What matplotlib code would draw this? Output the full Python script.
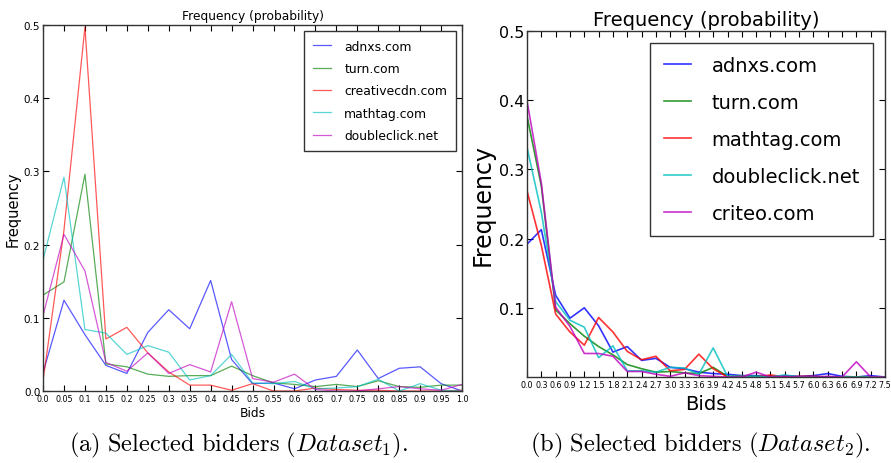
import matplotlib
matplotlib.use("Agg")
from matplotlib import pyplot as plt

plt.rcParams['font.family'] = ['DejaVu Sans']
plt.rcParams['mathtext.fontset'] = 'cm'

# (a) Dataset 1
bids_a = [0.0, 0.05, 0.1, 0.15, 0.2, 0.25, 0.3, 0.35, 0.4, 0.45, 0.5,
          0.55, 0.6, 0.65, 0.7, 0.75, 0.8, 0.85, 0.9, 0.95, 1.0]
ticks_a = ["0.0", "0.05", "0.1", "0.15", "0.2", "0.25", "0.3", "0.35", "0.4",
           "0.45", "0.5", "0.55", "0.6", "0.65", "0.7", "0.75", "0.8", "0.85",
           "0.9", "0.95", "1.0"]
adnxs_a = [0.025, 0.124, 0.077, 0.035, 0.024, 0.080, 0.111, 0.085, 0.151,
           0.043, 0.010, 0.011, 0.003, 0.015, 0.020, 0.056, 0.017, 0.031,
           0.033, 0.010, 0.0]
turn_a = [0.131, 0.149, 0.296, 0.037, 0.033, 0.023, 0.020, 0.021, 0.021,
          0.034, 0.021, 0.011, 0.009, 0.006, 0.009, 0.006, 0.014, 0.006,
          0.005, 0.008, 0.008]
creativecdn_a = [0.014, 0.220, 0.497, 0.071, 0.087, 0.052, 0.026, 0.008,
                 0.008, 0.001, 0.010, 0.0, 0.0, 0.004, 0.002, 0.001, 0.001,
                 0.0, 0.0, 0.0, 0.001]
mathtag_a = [0.179, 0.292, 0.084, 0.079, 0.050, 0.062, 0.053, 0.015, 0.021,
             0.050, 0.011, 0.010, 0.013, 0.003, 0.004, 0.006, 0.016, 0.0,
             0.010, 0.001, 0.0]
doubleclick_a = [0.103, 0.214, 0.164, 0.039, 0.027, 0.052, 0.024, 0.036,
                 0.026, 0.122, 0.017, 0.012, 0.023, 0.002, 0.0, 0.0, 0.003,
                 0.006, 0.003, 0.001, 0.009]

# (b) Dataset 2
bids_b = [0.0, 0.3, 0.6, 0.9, 1.2, 1.5, 1.8, 2.1, 2.4, 2.7, 3.0, 3.3, 3.6,
          3.9, 4.2, 4.5, 4.8, 5.1, 5.4, 5.7, 6.0, 6.3, 6.6, 6.9, 7.2, 7.5]
ticks_b = ["0.0", "0.3", "0.6", "0.9", "1.2", "1.5", "1.8", "2.1", "2.4",
           "2.7", "3.0", "3.3", "3.6", "3.9", "4.2", "4.5", "4.8", "5.1",
           "5.4", "5.7", "6.0", "6.3", "6.6", "6.9", "7.2", "7.5"]
adnxs_b = [0.192, 0.213, 0.118, 0.085, 0.100, 0.074, 0.036, 0.044, 0.024,
           0.027, 0.014, 0.012, 0.007, 0.005, 0.004, 0.002, 0.002, 0.001,
           0.002, 0.001, 0.002, 0.005, 0.001, 0.0, 0.002, 0.0]
turn_b = [0.377, 0.276, 0.097, 0.077, 0.059, 0.044, 0.032, 0.018, 0.012,
          0.007, 0.008, 0.006, 0.005, 0.014, 0.001, 0.001, 0.001, 0.0,
          0.001, 0.0, 0.0, 0.0, 0.0, 0.0, 0.0, 0.0]
mathtag_b = [0.269, 0.190, 0.091, 0.065, 0.046, 0.086, 0.065, 0.037, 0.025,
             0.030, 0.009, 0.011, 0.033, 0.012, 0.0, 0.001, 0.0, 0.003, 0.0,
             0.001, 0.001, 0.0, 0.0, 0.0, 0.0, 0.0]
doubleclick_b = [0.332, 0.238, 0.109, 0.082, 0.072, 0.028, 0.045, 0.009,
                 0.009, 0.007, 0.014, 0.013, 0.004, 0.042, 0.001, 0.001,
                 0.001, 0.0, 0.003, 0.0, 0.0, 0.0, 0.0, 0.0, 0.0, 0.0]
criteo_b = [0.399, 0.280, 0.101, 0.073, 0.034, 0.034, 0.030, 0.008, 0.008,
            0.004, 0.001, 0.006, 0.002, 0.001, 0.0, 0.0, 0.007, 0.0, 0.001,
            0.0, 0.0, 0.001, 0.0, 0.022, 0.0, 0.0]

series_a = [("adnxs.com", adnxs_a), ("turn.com", turn_a),
            ("creativecdn.com", creativecdn_a), ("mathtag.com", mathtag_a),
            ("doubleclick.net", doubleclick_a)]
series_b = [("adnxs.com", adnxs_b), ("turn.com", turn_b),
            ("mathtag.com", mathtag_b), ("doubleclick.net", doubleclick_b),
            ("criteo.com", criteo_b)]
colors = ["b", "g", "r", "c", "m"]

fig = plt.figure(figsize=(8.91, 4.64), dpi=100)


def style_axes(ax):
    ax.tick_params(direction="in", top=True, right=True, length=4,
                   width=0.8, pad=2)
    for s in ax.spines.values():
        s.set_color("#333333")
        s.set_linewidth(1.0)


# left panel
ax1 = fig.add_axes([0.0483, 0.1552, 0.4703, 0.7888])
for (name, vals), c in zip(series_a, colors):
    ax1.plot(bids_a, vals, color=c, alpha=0.65, lw=0.9, label=name)
ax1.set_xlim(0, 1.0)
ax1.set_ylim(0, 0.5)
ax1.set_xticks(bids_a)
ax1.set_xticklabels(ticks_a, fontsize=5.8)
ax1.set_yticks([0.0, 0.1, 0.2, 0.3, 0.4, 0.5])
ax1.set_yticklabels(["0.0", "0.1", "0.2", "0.3", "0.4", "0.5"], fontsize=7.5)
style_axes(ax1)
ax1.set_title("Frequency (probability)", fontsize=8.8, pad=4)
ax1.set_xlabel("Bids", fontsize=8.8, labelpad=2)
ax1.set_ylabel("Frequency", fontsize=10.5, labelpad=2)
leg1 = ax1.legend(loc="upper right", fontsize=8.9, labelspacing=0.75,
                  handlelength=1.5, handletextpad=1.05, borderpad=0.7,
                  fancybox=False, framealpha=1)
leg1.get_frame().set_edgecolor("#333333")

# right panel
ax2 = fig.add_axes([0.5915, 0.1853, 0.4018, 0.7457])
for (name, vals), c in zip(series_b, colors):
    ax2.plot(bids_b, vals, color=c, alpha=0.8, lw=1.2, label=name)
ax2.set_xlim(0, 7.5)
ax2.set_ylim(0, 0.5)
ax2.set_xticks(bids_b)
ax2.set_xticklabels(ticks_b, fontsize=5.8)
ax2.set_yticks([0.1, 0.2, 0.3, 0.4, 0.5])
ax2.set_yticklabels(["0.1", "0.2", "0.3", "0.4", "0.5"], fontsize=11.5)
style_axes(ax2)
ax2.set_title("Frequency (probability)", fontsize=14, pad=4)
ax2.set_xlabel("Bids", fontsize=14, labelpad=4)
ax2.set_ylabel("Frequency", fontsize=17, labelpad=3)
leg2 = ax2.legend(loc="upper right", fontsize=14, labelspacing=0.92,
                  handlelength=1.4, handletextpad=1.05, borderpad=0.7,
                  borderaxespad=0.6, fancybox=False, framealpha=1)
leg2.get_frame().set_edgecolor("#333333")

# captions
fig.text(0.268, 0.026,
         r"$\mathrm{(a)\ Selected\ bidders\ (}Dataset_1\mathrm{).}$",
         ha="center", va="baseline", fontsize=17.6)
fig.text(0.786, 0.026,
         r"$\mathrm{(b)\ Selected\ bidders\ (}Dataset_2\mathrm{).}$",
         ha="center", va="baseline", fontsize=17.6)

fig.savefig("out.png", dpi=100)
